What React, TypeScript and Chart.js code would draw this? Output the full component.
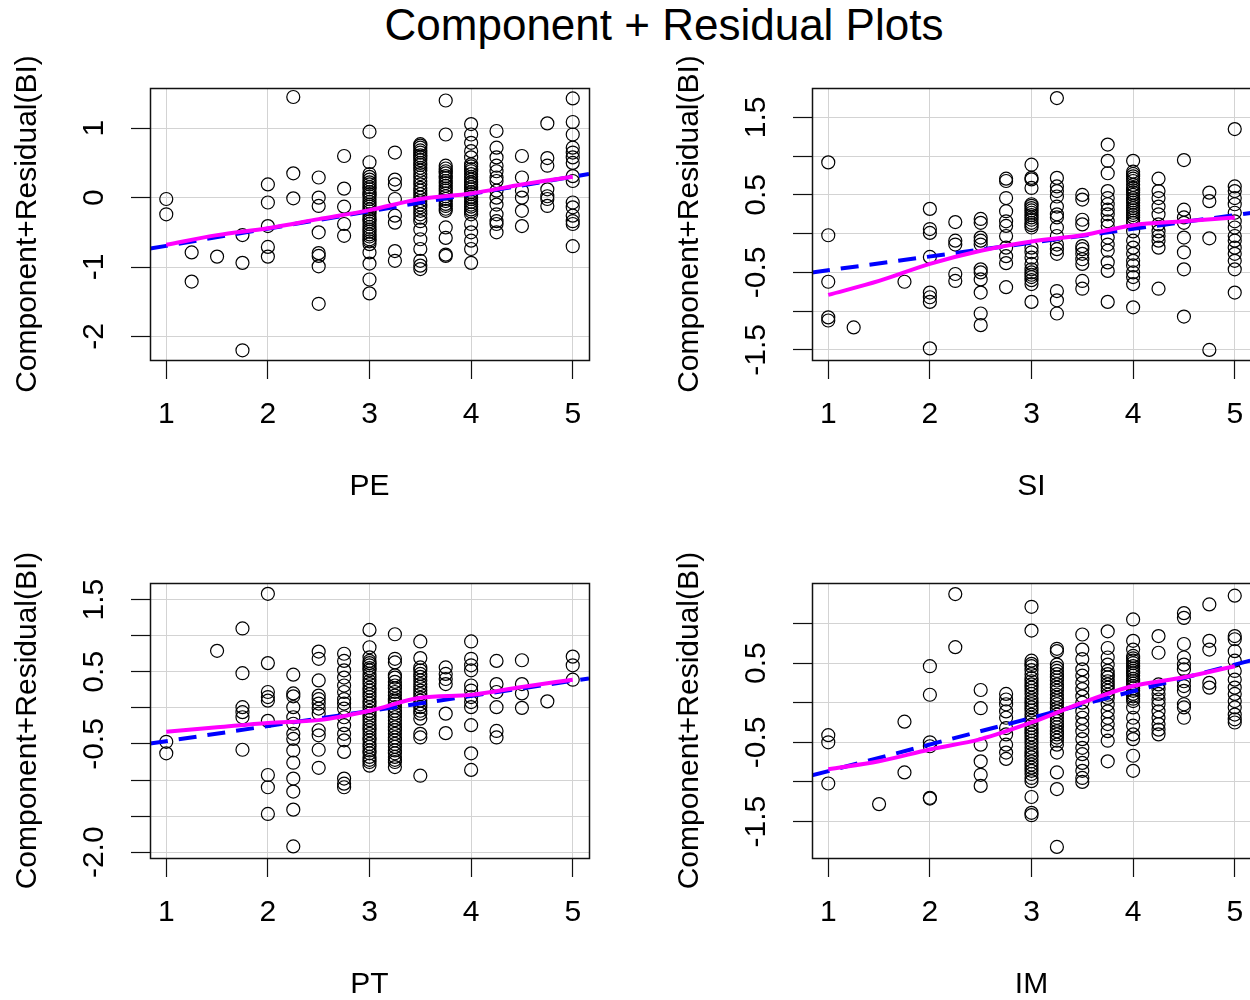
import React, { useEffect, useRef } from "react";
import { Chart, registerables } from "chart.js";

Chart.register(...registerables);

const FONT_FAMILY = "'Liberation Sans', Arial, Helvetica, sans-serif";

// Shared x structure: item means, in 0.25 steps
const X_LEVELS = [1, 1.25, 1.5, 1.75, 2, 2.25, 2.5, 2.75, 3, 3.25, 3.5, 3.75, 4, 4.25, 4.5, 4.75, 5];
const X_TICKS = [1, 2, 3, 4, 5];
const X_LIMITS = [0.84, 5.16];
const SMOOTH_X = [1, 1.5, 2, 2.5, 3, 3.5, 4, 4.5, 5];
const Y_TITLE = "Component+Residual(BI)";
const MAIN_TITLE = "Component + Residual Plots";

// ---- PE ----
const peResiduals: number[][] = [
  [-0.02, -0.24],
  [-0.79, -1.21],
  [-0.85],
  [-0.54, -0.94, -2.2],
  [0.19, -0.07, -0.41, -0.71, -0.85],
  [1.45, 0.35, -0.01],
  [0.29, 0, -0.12, -0.5, -0.8, -0.84, -0.99, -1.53],
  [0.6, 0.13, -0.13, -0.38, -0.55],
  [0.95, 0.51, 0.34, 0.3, 0.26, 0.22, 0.19, 0.15, 0.12, 0.08, 0.05, 0.02, -0.02, -0.06, -0.1, -0.13, -0.17, -0.2, -0.24, -0.28, -0.31, -0.34, -0.38, -0.42, -0.46, -0.49, -0.53, -0.56, -0.6, -0.63, -0.67, -0.79, -0.95, -1.18, -1.38],
  [0.65, 0.26, 0.19, -0.02, -0.26, -0.36, -0.77, -0.91],
  [0.77, 0.75, 0.72, 0.68, 0.65, 0.61, 0.58, 0.54, 0.5, 0.47, 0.43, 0.39, 0.34, 0.29, 0.24, 0.19, 0.14, 0.1, 0.05, 0, -0.05, -0.1, -0.14, -0.19, -0.24, -0.29, -0.34, -0.46, -0.6, -0.74, -0.91, -0.98, -1.03],
  [1.4, 0.91, 0.46, 0.42, 0.38, 0.35, 0.31, 0.28, 0.24, 0.21, 0.17, 0.13, 0.1, 0.06, 0.02, -0.02, -0.05, -0.09, -0.12, -0.16, -0.19, -0.43, -0.58, -0.82, -0.84],
  [1.06, 0.91, 0.79, 0.67, 0.58, 0.48, 0.45, 0.41, 0.38, 0.34, 0.3, 0.26, 0.22, 0.19, 0.15, 0.12, 0.08, 0.05, 0.01, -0.02, -0.06, -0.1, -0.13, -0.17, -0.2, -0.24, -0.38, -0.5, -0.62, -0.74, -0.94],
  [0.96, 0.72, 0.58, 0.46, 0.38, 0.29, 0.24, 0.1, 0, -0.1, -0.24, -0.34, -0.38, -0.5],
  [0.6, 0.29, 0.1, 0, -0.19, -0.41],
  [1.07, 0.57, 0.46, 0.12, 0.02, -0.02, -0.12],
  [1.43, 1.09, 0.91, 0.72, 0.65, 0.58, 0.5, 0.31, 0.24, -0.07, -0.14, -0.26, -0.34, -0.38, -0.7],
];
const peYLimits = [-2.34, 1.58];
const peYTicks = [-2, -1, 0, 1];
const peYTickLabels = ["-2", "-1", "0", "1"];
const peFit = [-0.944, 0.249];
const peSmoothY = [-0.68, -0.54, -0.44, -0.31, -0.18, -0.02, 0.06, 0.19, 0.3];

// ---- SI ----
const siResiduals: number[][] = [
  [0.92, -0.02, -0.62, -1.08, -1.12],
  [-1.21],
  [],
  [-0.62],
  [0.32, 0.06, 0.01, -0.3, -0.76, -0.82, -0.88, -1.48],
  [0.15, -0.09, -0.14, -0.52, -0.61],
  [0.19, 0.14, -0.05, -0.09, -0.14, -0.46, -0.5, -0.59, -0.76, -1.03, -1.18],
  [0.71, 0.68, 0.46, 0.29, 0.16, 0.1, -0.03, -0.18, -0.29, -0.38, -0.69],
  [0.89, 0.72, 0.7, 0.59, 0.38, 0.36, 0.33, 0.3, 0.27, 0.24, 0.21, 0.18, 0.14, 0.11, 0.08, -0.18, -0.24, -0.31, -0.39, -0.46, -0.5, -0.53, -0.56, -0.6, -0.65, -0.88],
  [1.75, 0.72, 0.61, 0.55, 0.48, 0.35, 0.25, 0.21, 0.08, -0.03, -0.14, -0.2, -0.26, -0.74, -0.86, -1.03],
  [0.5, 0.44, 0.18, 0.12, -0.16, -0.2, -0.26, -0.33, -0.39, -0.61, -0.71],
  [1.15, 0.94, 0.78, 0.55, 0.46, 0.38, 0.31, 0.25, 0.16, 0.1, -0.05, -0.14, -0.22, -0.37, -0.48, -0.88],
  [0.94, 0.8, 0.77, 0.74, 0.71, 0.68, 0.63, 0.59, 0.56, 0.53, 0.5, 0.46, 0.43, 0.4, 0.36, 0.33, 0.3, 0.27, 0.24, 0.21, 0.17, 0.14, 0.03, -0.09, -0.18, -0.26, -0.35, -0.41, -0.5, -0.56, -0.65, -0.95],
  [0.71, 0.55, 0.46, 0.35, 0.25, 0.12, 0.03, -0.03, -0.09, -0.18, -0.71],
  [0.95, 0.31, 0.21, 0.14, -0.05, -0.24, -0.46, -1.07],
  [0.53, 0.42, -0.06, -1.5],
  [1.35, 0.61, 0.55, 0.46, 0.38, 0.27, 0.16, 0.08, -0.03, -0.09, -0.18, -0.26, -0.35, -0.46, -0.76],
];
const siYLimits = [-1.63, 1.88];
const siYTicks = [-1.5, -1, -0.5, 0, 0.5, 1, 1.5];
const siYTickLabels = ["-1.5", "", "-0.5", "", "0.5", "", "1.5"];
const siFit = [-0.65, 0.178];
const siSmoothY = [-0.79, -0.61, -0.39, -0.22, -0.1, -0.02, 0.11, 0.16, 0.21];

// ---- PT ----
const ptResiduals: number[][] = [
  [-0.47, -0.63],
  [],
  [0.79],
  [1.1, 0.48, 0.01, -0.06, -0.13, -0.58],
  [1.58, 0.62, 0.22, 0.15, 0.1, -0.18, -0.93, -1.1, -1.47],
  [0.46, 0.2, 0.16, 0.01, -0.13, -0.22, -0.36, -0.43, -0.59, -0.76, -0.98, -1.16, -1.41, -1.92],
  [0.78, 0.68, 0.38, 0.17, 0.12, 0.06, -0.01, -0.08, -0.31, -0.38, -0.58, -0.83],
  [0.75, 0.65, 0.52, 0.42, 0.31, 0.22, 0.12, 0.06, -0.01, -0.13, -0.24, -0.36, -0.45, -0.61, -0.98, -1.05, -1.1],
  [1.08, 0.84, 0.7, 0.65, 0.62, 0.59, 0.55, 0.52, 0.47, 0.42, 0.37, 0.33, 0.28, 0.24, 0.19, 0.15, 0.1, 0.06, 0.01, -0.04, -0.08, -0.13, -0.17, -0.22, -0.27, -0.31, -0.36, -0.41, -0.45, -0.5, -0.54, -0.59, -0.63, -0.68, -0.72, -0.75, -0.8],
  [1.02, 0.68, 0.63, 0.45, 0.42, 0.36, 0.31, 0.27, 0.22, 0.17, 0.12, 0.09, 0.06, 0.01, -0.04, -0.08, -0.13, -0.17, -0.22, -0.27, -0.31, -0.36, -0.41, -0.45, -0.5, -0.54, -0.59, -0.63, -0.68, -0.72, -0.75, -0.82],
  [0.92, 0.69, 0.56, 0.52, 0.47, 0.43, 0.38, 0.33, 0.29, 0.24, 0.19, 0.14, 0.1, 0.05, 0.01, -0.04, -0.08, -0.15, -0.36, -0.41, -0.94],
  [0.56, 0.47, 0.4, 0.33, -0.08, -0.35],
  [0.92, 0.68, 0.59, 0.52, 0.31, 0.24, 0.15, 0.08, 0.01, -0.24, -0.63, -0.86],
  [0.65, 0.33, 0.22, 0.01, -0.32, -0.41],
  [0.66, 0.33, 0.2, 0],
  [0.09],
  [0.71, 0.59, 0.39],
];
const ptYLimits = [-2.08, 1.73];
const ptYTicks = [-2, -1.5, -1, -0.5, 0, 0.5, 1, 1.5];
const ptYTickLabels = ["-2.0", "", "", "-0.5", "", "0.5", "", "1.5"];
const ptFit = [-0.67, 0.209];
const ptSmoothY = [-0.33, -0.27, -0.21, -0.17, -0.04, 0.14, 0.18, 0.29, 0.39];

// ---- IM ----
const imResiduals: number[][] = [
  [-0.41, -0.5, -1.02],
  [],
  [-1.28],
  [-0.24, -0.88],
  [0.46, 0.1, -0.5, -0.55, -1.2, -1.21],
  [1.37, 0.7],
  [0.16, -0.07, -0.53, -0.74, -0.91, -1.05],
  [0.11, 0.04, -0.02, -0.11, -0.19, -0.32, -0.4, -0.53, -0.63, -0.71],
  [1.21, 0.91, 0.53, 0.49, 0.46, 0.41, 0.36, 0.31, 0.27, 0.23, 0.19, 0.15, 0.11, 0.06, 0.02, -0.02, -0.06, -0.1, -0.15, -0.19, -0.23, -0.28, -0.32, -0.36, -0.4, -0.44, -0.48, -0.52, -0.57, -0.61, -0.65, -0.69, -0.74, -0.78, -0.82, -0.86, -0.9, -0.95, -0.99, -1.19, -1.39, -1.42],
  [0.68, 0.65, 0.48, 0.44, 0.4, 0.36, 0.32, 0.28, 0.23, 0.19, 0.15, 0.1, 0.06, 0.02, -0.02, -0.07, -0.11, -0.15, -0.19, -0.23, -0.27, -0.31, -0.36, -0.4, -0.44, -0.48, -0.53, -0.63, -0.88, -1.09, -1.82],
  [0.86, 0.67, 0.55, 0.42, 0.34, 0.25, 0.17, 0.08, 0, -0.11, -0.19, -0.27, -0.36, -0.46, -0.57, -0.65, -0.76, -0.86, -0.95, -1.0],
  [0.9, 0.69, 0.57, 0.48, 0.4, 0.36, 0.32, 0.27, 0.23, 0.19, 0.15, 0.1, 0.06, -0.02, -0.11, -0.19, -0.27, -0.36, -0.48, -0.74],
  [1.05, 0.78, 0.67, 0.59, 0.56, 0.53, 0.5, 0.46, 0.43, 0.4, 0.37, 0.34, 0.3, 0.27, 0.24, 0.21, 0.18, 0.15, 0.11, 0.08, 0.05, 0.02, -0.06, -0.19, -0.29, -0.4, -0.46, -0.67, -0.86],
  [0.84, 0.63, 0.23, 0.17, 0.11, 0.04, -0.02, -0.11, -0.19, -0.27, -0.34, -0.4],
  [1.13, 1.07, 0.74, 0.57, 0.48, 0.42, 0.27, 0.21, 0.15, -0.02, -0.06, -0.19],
  [1.24, 0.78, 0.67, 0.25, 0.19],
  [1.35, 0.84, 0.8, 0.65, 0.53, 0.4, 0.29, 0.19, 0.11, 0.02, -0.06, -0.15, -0.21, -0.25],
];
const imYLimits = [-1.96, 1.51];
const imYTicks = [-1.5, -1, -0.5, 0, 0.5, 1];
const imYTickLabels = ["-1.5", "", "-0.5", "", "0.5", ""];
const imFit = [-1.2, 0.336];
const imSmoothY = [-0.84, -0.74, -0.59, -0.46, -0.25, 0, 0.21, 0.32, 0.46];

type PanelProps = {
  name: string;
  residuals: number[][];
  yLimits: number[];
  yTicks: number[];
  yTickLabels: string[];
  fit: number[];
  smoothY: number[];
  left: number;
  top: number;
  plotHeight: number;
};

const PLOT_LEFT = 150;
const PLOT_TOP = 38;
const PLOT_WIDTH = 439;
const RIGHT_PAD = 36;
const X_AXIS_HEIGHT = 145;
const TICK_LEN = 19;
const FONT_SIZE = 30;

function Panel(p: PanelProps) {
  const ref = useRef<HTMLCanvasElement | null>(null);
  const width = PLOT_LEFT + PLOT_WIDTH + RIGHT_PAD;
  const height = PLOT_TOP + p.plotHeight + X_AXIS_HEIGHT;

  useEffect(() => {
    const canvas = ref.current;
    if (!canvas) return;
    const points: { x: number; y: number }[] = [];
    p.residuals.forEach((col, i) => col.forEach((y) => points.push({ x: X_LEVELS[i], y })));
    const fitData = X_LIMITS.map((x) => ({ x, y: p.fit[0] + p.fit[1] * x }));
    const smoothData = SMOOTH_X.map((x, i) => ({ x, y: p.smoothY[i] }));

    const mctx = canvas.getContext("2d")!;
    mctx.font = `${FONT_SIZE}px ${FONT_FAMILY}`;
    const widest = Math.max(...p.yTickLabels.map((s) => mctx.measureText(s).width));
    const yPad = 55 - TICK_LEN - widest / 2;

    const boxPlugin = {
      id: "rbox",
      afterDatasetsDraw(chart: any) {
        const { ctx, chartArea: a } = chart;
        ctx.save();
        ctx.strokeStyle = "#111";
        ctx.lineWidth = 1.5;
        ctx.strokeRect(a.left + 0.5, a.top + 0.5, a.right - a.left, a.bottom - a.top);
        ctx.restore();
      },
    };

    const zeroPad = (s: any) => {
      s.paddingLeft = 0;
      s.paddingRight = 0;
      s.paddingTop = 0;
      s.paddingBottom = 0;
    };

    const font = { family: FONT_FAMILY, size: FONT_SIZE, lineHeight: 1 };

    const chart = new Chart(canvas, {
      type: "scatter",
      data: {
        datasets: [
          {
            type: "line",
            data: smoothData,
            borderColor: "#ff00ff",
            borderWidth: 4,
            pointRadius: 0,
            fill: false,
            cubicInterpolationMode: "monotone",
            order: 0,
          } as any,
          {
            type: "line",
            data: fitData,
            borderColor: "#0000ff",
            borderWidth: 4,
            borderDash: [18, 11],
            pointRadius: 0,
            fill: false,
            order: 1,
          } as any,
          {
            type: "scatter",
            data: points,
            pointStyle: "circle",
            pointRadius: 6.5,
            pointBorderWidth: 1.2,
            pointBorderColor: "#000",
            pointBackgroundColor: "rgba(0,0,0,0)",
            order: 2,
          } as any,
        ],
      },
      options: {
        responsive: false,
        animation: false,
        events: [],
        layout: { padding: { top: PLOT_TOP, right: RIGHT_PAD, left: 0, bottom: 0 } },
        plugins: { legend: { display: false }, tooltip: { enabled: false } },
        scales: {
          x: {
            type: "linear",
            min: X_LIMITS[0],
            max: X_LIMITS[1],
            afterBuildTicks: (s: any) => {
              s.ticks = X_TICKS.map((v) => ({ value: v }));
            },
            afterFit: (s: any) => {
              s.height = X_AXIS_HEIGHT;
              zeroPad(s);
            },
            border: { display: false },
            grid: { color: "#d3d3d3", lineWidth: 1, tickColor: "#111", tickLength: TICK_LEN, tickWidth: 1.2 },
            ticks: {
              autoSkip: false,
              minRotation: 0,
              maxRotation: 0,
              color: "#000",
              padding: 20.5,
              font,
              callback: (v: any) => String(v),
            },
            title: { display: true, text: p.name, color: "#000", font, padding: { top: 0, bottom: 3 } },
          },
          y: {
            type: "linear",
            min: p.yLimits[0],
            max: p.yLimits[1],
            afterBuildTicks: (s: any) => {
              s.ticks = p.yTicks.map((v) => ({ value: v }));
            },
            afterFit: (s: any) => {
              s.width = PLOT_LEFT;
              zeroPad(s);
            },
            border: { display: false },
            grid: { color: "#d3d3d3", lineWidth: 1, tickColor: "#111", tickLength: TICK_LEN, tickWidth: 1.2 },
            ticks: {
              autoSkip: false,
              minRotation: 90,
              maxRotation: 90,
              crossAlign: "center",
              color: "#000",
              padding: yPad,
              font,
              callback: (v: any) => {
                const i = p.yTicks.findIndex((t) => Math.abs(t - Number(v)) < 1e-9);
                return i >= 0 ? p.yTickLabels[i] : "";
              },
            },
            title: { display: true, text: Y_TITLE, color: "#000", font, padding: { top: 13, bottom: 0 } },
          },
        },
      } as any,
      plugins: [boxPlugin],
    });
    return () => chart.destroy();
  }, []);

  return (
    <canvas
      ref={ref}
      width={width}
      height={height}
      style={{ position: "absolute", left: p.left, top: p.top, width, height }}
    />
  );
}

export default function App() {
  return (
    <div
      style={{
        position: "absolute",
        left: 0,
        top: 0,
        width: 1250,
        height: 1000,
        overflow: "hidden",
        background: "#fff",
      }}
    >
      <div
        style={{
          position: "absolute",
          left: 664,
          top: 3,
          transform: "translateX(-50%)",
          whiteSpace: "nowrap",
          fontFamily: FONT_FAMILY,
          fontSize: 44,
          lineHeight: "44px",
          color: "#000",
        }}
      >
        {MAIN_TITLE}
      </div>
      <Panel name="PE" residuals={peResiduals} yLimits={peYLimits} yTicks={peYTicks} yTickLabels={peYTickLabels} fit={peFit} smoothY={peSmoothY} left={0} top={50} plotHeight={272} />
      <Panel name="SI" residuals={siResiduals} yLimits={siYLimits} yTicks={siYTicks} yTickLabels={siYTickLabels} fit={siFit} smoothY={siSmoothY} left={662} top={50} plotHeight={272} />
      <Panel name="PT" residuals={ptResiduals} yLimits={ptYLimits} yTicks={ptYTicks} yTickLabels={ptYTickLabels} fit={ptFit} smoothY={ptSmoothY} left={0} top={545} plotHeight={275} />
      <Panel name="IM" residuals={imResiduals} yLimits={imYLimits} yTicks={imYTicks} yTickLabels={imYTickLabels} fit={imFit} smoothY={imSmoothY} left={662} top={545} plotHeight={275} />
    </div>
  );
}
